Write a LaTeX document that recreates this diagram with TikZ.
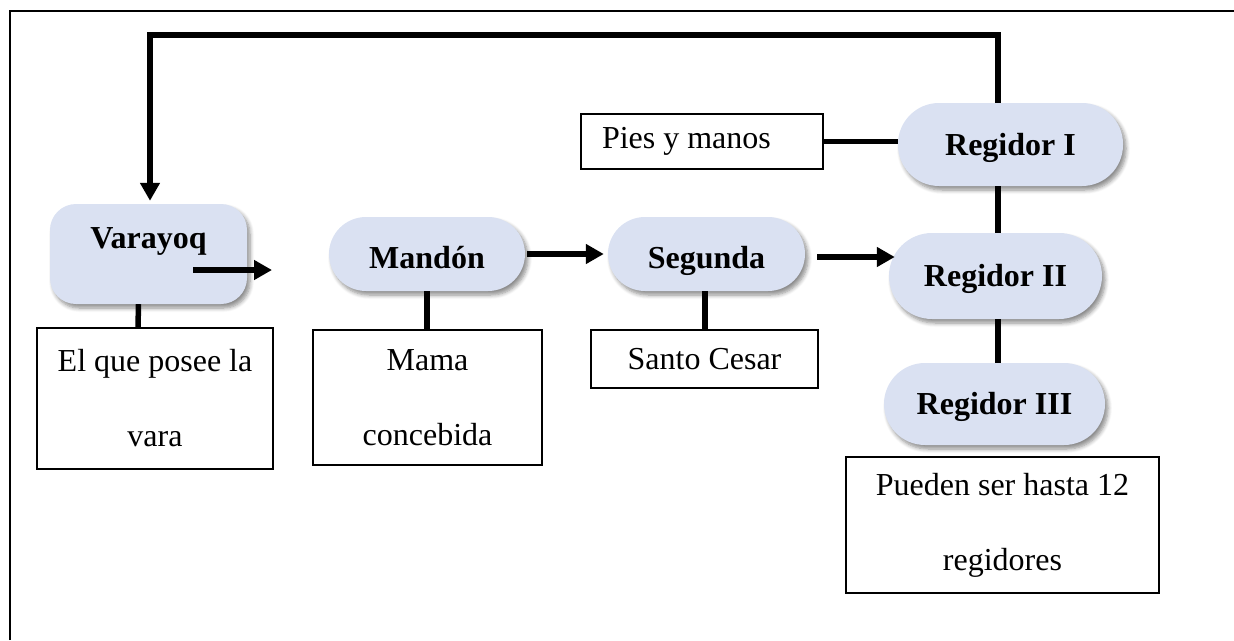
\documentclass[tikz,border=0pt]{standalone}
\usepackage{fontspec}
\setmainfont{Liberation Serif}
\usetikzlibrary{arrows.meta,shadows.blur,calc}
\definecolor{pill}{RGB}{218,225,242}
\tikzset{
  base/.style={inner sep=0pt,font=\fontsize{32}{75}\selectfont,align=center},
  bluebox/.style={base,fill=pill,font=\fontsize{32}{75}\selectfont\bfseries,
    blur shadow={shadow xshift=3pt,shadow yshift=-4pt,shadow blur steps=6,shadow blur radius=4pt,shadow opacity=45}},
  pillbox/.style={bluebox,text height=21pt,text depth=0pt},
  notebox/.style={base,draw,line width=1.4pt},
  conn/.style={line width=5.5pt},
  arr/.style={conn,-{Triangle[length=18pt,width=19pt]}}
}
\begin{document}
\begin{tikzpicture}[x=1pt,y=-1pt]
\useasboundingbox (0,0) rectangle (1234,640);
% outer frame (top and left edges)
\draw[line width=2pt] (10,640) -- (10,11) -- (1234,11);

% blue nodes
\node[bluebox,rounded corners=26pt,minimum width=197pt,minimum height=100pt,text height=22pt,text depth=34pt] (V) at (148.5,254) {Varayoq};
\node[pillbox,text height=28pt,rounded corners=37pt,minimum width=196pt,minimum height=74pt] (M) at (427,254) {Mandón};
\node[pillbox,text height=28pt,rounded corners=37pt,minimum width=197pt,minimum height=74pt] (S) at (706.5,254) {Segunda};
\node[pillbox,rounded corners=41pt,minimum width=225pt,minimum height=83pt] (R1) at (1010.5,144.5) {Regidor I};
\node[pillbox,rounded corners=43pt,minimum width=213pt,minimum height=86pt] (R2) at (995.5,276) {Regidor II};
\node[pillbox,rounded corners=41pt,minimum width=221pt,minimum height=82pt] (R3) at (994.5,404) {Regidor III};

% note boxes
\node[notebox,minimum width=236pt,minimum height=141pt] (E) at (155,398.5) {El que posee la\\vara};
\node[notebox,line width=2.5pt,minimum width=229pt,minimum height=135pt] (MC) at (427.5,397.5) {Mama\\concebida};
\node[notebox,minimum width=227pt,minimum height=58pt] (SC) at (704.5,359) {Santo Cesar};
\node[notebox,minimum height=55pt,inner xsep=21pt] (P) at (702,141.5) {\makebox[200pt][l]{Pies y manos}};
\node[notebox,minimum width=313pt,minimum height=136pt] (PU) at (1002.5,525) {Pueden ser hasta 12\\regidores};

% loop from Regidor I back to Varayoq
\coordinate (loopR) at (998,35);
\coordinate (loopL) at (150,35);
\draw[arr,shorten >=3pt] (R1.north -| loopR) -- (loopR) -- (loopL) -- (V.north -| loopL);

% horizontal arrows
\coordinate (va) at (193,270);
\coordinate (vb) at (272,270);
\draw[arr] (va) -- (vb);
\draw[arr,shorten <=2pt,shorten >=4pt] (M.east) -- (S.west);
\draw[arr] ($(S.east)+(12,3)$) -- ($(R2.west)+(6,-19)$);

% vertical connectors
\draw[conn] ($(V.south)+(-10,0)$) -- ($(E.north)+(-17,0)$);
\draw[conn] (M.south) -- (MC.north -| M.south);
\draw[conn] ($(S.south)+(-1.5,0)$) -- ($(SC.north)+(0.5,0)$);
\draw[conn] (P.east) -- (P.east -| R1.west);
\draw[conn] (R1.south -| loopR) -- (R2.north -| loopR);
\draw[conn] (R2.south -| loopR) -- (R3.north -| loopR);
\end{tikzpicture}
\end{document}
